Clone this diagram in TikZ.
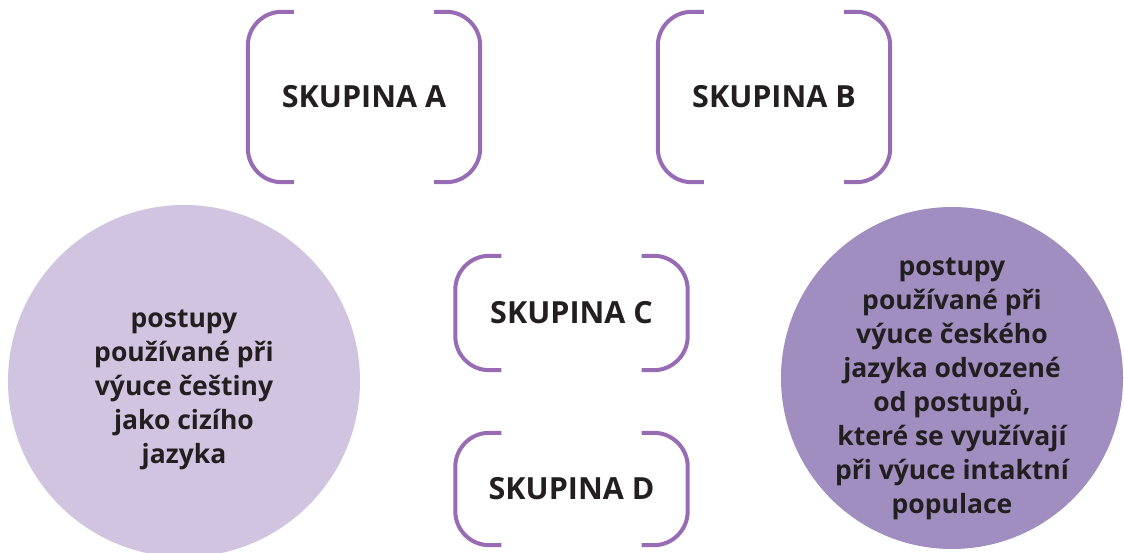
\documentclass[tikz,border=0pt]{standalone}
\usepackage{fontspec}
\setmainfont{Open Sans}
\definecolor{brk}{RGB}{152,108,180}
\definecolor{lightc}{RGB}{208,196,224}
\definecolor{darkc}{RGB}{160,142,192}
\definecolor{txt}{RGB}{35,31,32}
\begin{document}
\begin{tikzpicture}[x=1pt,y=-1pt,
  grp/.style={rectangle,minimum width=232pt,inner sep=0pt,text=txt,font=\fontsize{30.5}{36}\selectfont\bfseries},
  brack/.style={draw=brk,line width=4pt,rounded corners=34pt},
  circ/.style={circle,inner sep=0pt,text=txt,align=center,font=\fontsize{26.5}{34}\selectfont\bfseries}]
\useasboundingbox (0,0) rectangle (1124,553);
% circles
\fill[lightc] (184,381) circle (176);
\fill[darkc] (952,378) circle (171);
\node[circ] (L) at (184,390) {postupy\\používané při\\výuce češtiny\\jako cizího\\jazyka};
\node[circ] (R) at (952,389) {postupy\\používané při\\výuce českého\\jazyka odvozené\\od postupů,\\které se využívají\\při výuce intaktní\\populace};
% groups
\node[grp,minimum height=170pt] (A) at (364,97) {SKUPINA A};
\node[grp,minimum height=170pt] (B) at (774,97) {SKUPINA B};
\node[grp,minimum height=114pt] (C) at (571.5,313) {SKUPINA C};
\node[grp,minimum height=112pt] (D) at (571.5,489) {SKUPINA D};
\foreach \n in {A,B,C,D}{
  \draw[brack] ([xshift=46pt]\n.north west) -- (\n.north west) -- (\n.south west) -- ([xshift=46pt]\n.south west);
  \draw[brack] ([xshift=-46pt]\n.north east) -- (\n.north east) -- (\n.south east) -- ([xshift=-46pt]\n.south east);
}
\end{tikzpicture}
\end{document}
